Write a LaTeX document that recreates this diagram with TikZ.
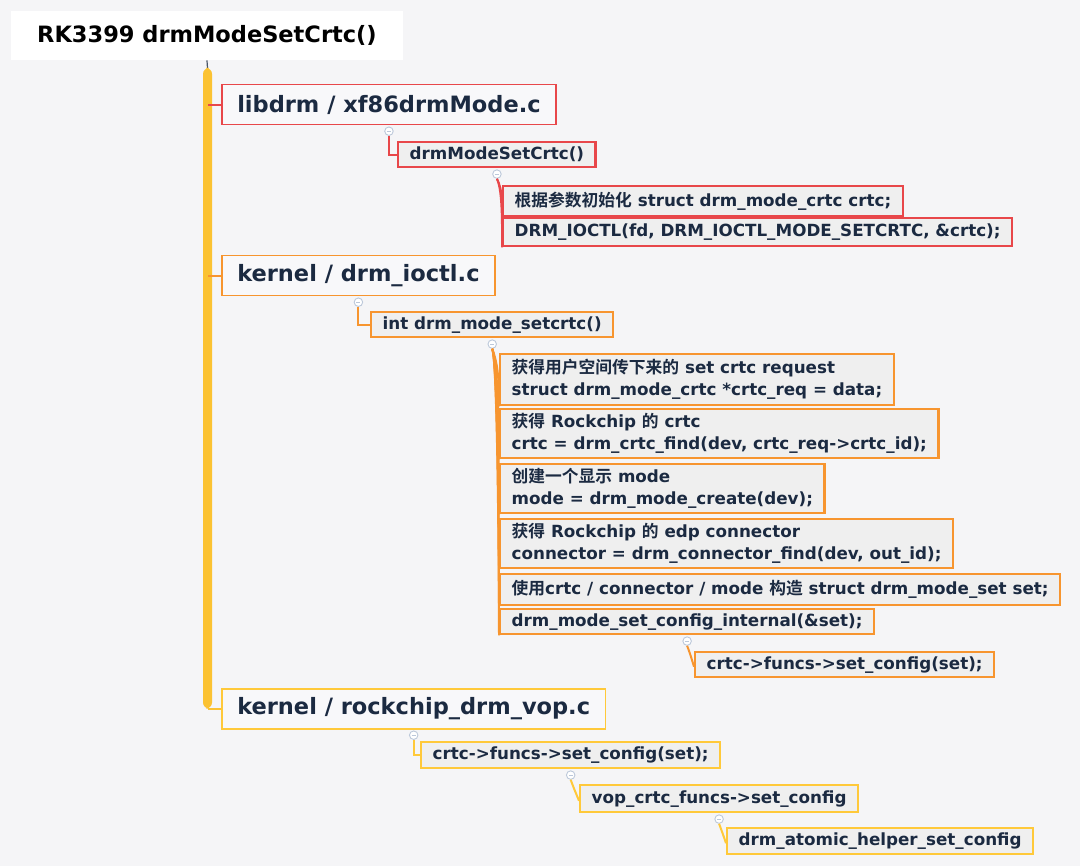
\documentclass[tikz,border=0pt]{standalone}
\usepackage{fontspec}
\setmainfont{DejaVu Sans}
\newfontfamily\cjkfont{Noto Sans CJK SC}[BoldFont={Noto Sans CJK SC Bold}]
\newcommand\zh[1]{{\cjkfont\bfseries #1}}
\usetikzlibrary{positioning,calc}

\definecolor{bgcol}{HTML}{F5F5F7}
\definecolor{ink}{HTML}{1B2A41}
\definecolor{leaffill}{HTML}{EFEFEF}
\definecolor{hdfill}{HTML}{F8F8FA}
\definecolor{redc}{HTML}{E8474A}
\definecolor{orangec}{HTML}{F7952F}
\definecolor{yellowc}{HTML}{FFC93A}
\definecolor{barcol}{HTML}{FBC232}
\definecolor{knobcol}{HTML}{BCC8DA}

\tikzset{
  title/.style={fill=white, anchor=north west, inner xsep=26pt, minimum height=49pt,
    font=\fontsize{22.5}{27}\selectfont\bfseries, text=black},
  head/.style={draw, line width=1.5pt, fill=hdfill, anchor=north west, inner xsep=15.5pt,
    minimum height=40pt, font=\fontsize{22.5}{27}\selectfont\bfseries, text=ink},
  leaf/.style={draw, line width=2.4pt, fill=leaffill, anchor=north west, inner xsep=11.5pt,
    minimum height=25pt, align=left, font=\fontsize{16.75}{22}\selectfont\bfseries, text=ink},
  knob/.style={circle, draw=knobcol, fill=white, line width=0.9pt, inner sep=0pt,
    minimum size=8.5pt, path picture={\draw[knobcol, line width=0.8pt]
      ([xshift=-2pt]path picture bounding box.center) -- ([xshift=2pt]path picture bounding box.center);}},
  link/.style={line width=2pt}
}

\begin{document}
\begin{tikzpicture}[x=1pt, y=-1pt]
  \fill[bgcol] (0,0) rectangle (1080,866);
  \useasboundingbox (0,0) rectangle (1080,866);

  % title and main bar
  \node[title] (root) at (11,11) {RK3399 drmModeSetCrtc()};
  \coordinate (bar) at (207.5,68);
  \draw[ink!80, line width=1.2pt] (root.south) -- (bar);
  \fill[barcol, rounded corners=6pt] (203,68) -- (203,708.5) -- (212,708.5) -- (212,68) -- cycle;

  % libdrm
  \node[head, draw=redc] (libdrm) at (221,84) {libdrm / xf86drmMode.c};
  \node[leaf, draw=redc] (setcrtc) at (397,141) {drmModeSetCrtc()};
  \node[leaf, draw=redc, minimum height=30pt] (init) at (502,185)
    {\zh{根据参数初始化} struct drm\_mode\_crtc crtc;};
  \node[leaf, draw=redc, minimum height=28pt] (ioctlcall) at (502,217)
    {DRM\_IOCTL(fd, DRM\_IOCTL\_MODE\_SETCRTC, \&crtc);};

  % kernel / drm_ioctl.c
  \node[head, draw=orangec] (ioctl) at (221,255) {kernel / drm\_ioctl.c};
  \node[leaf, draw=orangec] (mset) at (370,311) {int drm\_mode\_setcrtc()};
  \node[leaf, draw=orangec, minimum height=51pt] (ma) at (499,353)
    {\zh{获得用户空间传下来的} set crtc request\\struct drm\_mode\_crtc *crtc\_req = data;};
  \node[leaf, draw=orangec, minimum height=49pt] (mb) at (499,408)
    {\zh{获得} Rockchip \zh{的} crtc\\crtc = drm\_crtc\_find(dev, crtc\_req->crtc\_id);};
  \node[leaf, draw=orangec, minimum height=49pt] (mc) at (499,463)
    {\zh{创建一个显示} mode\\mode = drm\_mode\_create(dev);};
  \node[leaf, draw=orangec, minimum height=49pt] (md) at (499,518)
    {\zh{获得} Rockchip \zh{的} edp connector\\connector = drm\_connector\_find(dev, out\_id);};
  \node[leaf, draw=orangec, minimum height=31pt] (me) at (499,573)
    {\zh{使用}crtc / connector / mode \zh{构造} struct drm\_mode\_set set;};
  \node[leaf, draw=orangec] (mf) at (499,608) {drm\_mode\_set\_config\_internal(\&set);};
  \node[leaf, draw=orangec] (mcfg) at (694,651) {crtc->funcs->set\_config(set);};

  % kernel / rockchip_drm_vop.c
  \node[head, draw=yellowc] (vop) at (221,688) {kernel / rockchip\_drm\_vop.c};
  \node[leaf, draw=yellowc, minimum height=26pt] (vcfg) at (420,741) {crtc->funcs->set\_config(set);};
  \node[leaf, draw=yellowc, minimum height=27pt] (vfunc) at (579,784) {vop\_crtc\_funcs->set\_config};
  \node[leaf, draw=yellowc, minimum height=26pt] (atomic) at (726,827) {drm\_atomic\_helper\_set\_config};

  % collapse knobs
  \node[knob, below=1pt of libdrm] (klibdrm) {};
  \node[knob, below=1pt of setcrtc] (ksetcrtc) {};
  \node[knob, below=1pt of ioctl] (kioctl) {};
  \node[knob, below=1pt of mset] (kmset) {};
  \node[knob, below=1pt of mf] (kmf) {};
  \node[knob, below=1pt of vop] (kvop) {};
  \node[knob, below=1pt of vcfg] (kvcfg) {};
  \node[knob, below=1pt of vfunc] (kvfunc) {};

  % branches off the bar
  \draw[redc, link] (libdrm.west) -- (libdrm.west -| bar);
  \draw[orangec, link] (ioctl.west) -- (ioctl.west -| bar);
  \draw[barcol, link] (vop.west) -- (vop.west -| bar);

  % connectors
  \draw[redc, link] (klibdrm.south) |- (setcrtc.west);
  \foreach \c in {init,ioctlcall}
    \draw[redc, link] (ksetcrtc.south) .. controls ($(ksetcrtc.south)+(6,12)$) and (\c.west) .. (\c.south west);
  \draw[orangec, link] (kioctl.south) |- (mset.west);
  \foreach \c in {ma,mb,mc,md,me,mf}
    \draw[orangec, link] (kmset.south) .. controls ($(kmset.south)+(6,16)$) and (\c.west) .. (\c.south west);
  \draw[orangec, link] (kmf.south) .. controls ($(kmf.south)+(3,8)$) .. ($(mcfg.west)+(0,2)$);
  \draw[yellowc, link] (kvop.south) |- (vcfg.west);
  \draw[yellowc, link] (kvcfg.south) .. controls ($(kvcfg.south)+(3,8)$) .. ($(vfunc.west)+(0,2)$);
  \draw[yellowc, link] (kvfunc.south) .. controls ($(kvfunc.south)+(3,8)$) .. ($(atomic.west)+(0,2)$);
\end{tikzpicture}
\end{document}
